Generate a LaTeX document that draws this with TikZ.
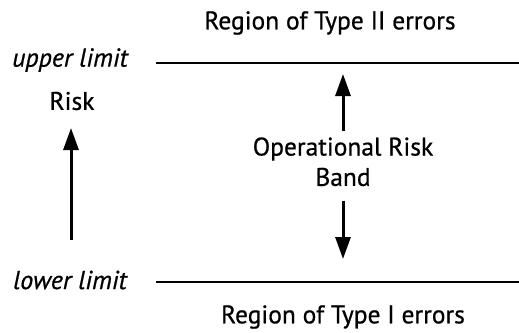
\documentclass[tikz,border=0pt]{standalone}
\usepackage{fontspec}
\setmainfont{PT Sans}[FakeBold=0.7]
\usetikzlibrary{arrows.meta}
\begin{document}
\begin{tikzpicture}[x=1pt,y=-1pt,
  lbl/.style={font=\fontsize{25.5}{30}\selectfont, inner sep=0pt, anchor=center},
  ilbl/.style={lbl, font=\fontsize{26}{30}\selectfont\itshape},
  limit/.style={line width=1.5pt},
  bigarrow/.style={line width=3pt, -{Triangle[length=22pt,width=15pt]}}]
\useasboundingbox (0,0) rectangle (519,332);
\node[lbl] (t2) at (330,23) {Region of Type II errors};
\node[ilbl] (ul) at (70,60) {upper limit};
\coordinate (ua) at (156,63);
\coordinate (ub) at (519,63);
\draw[limit] (ua) -- (ub);
\node[lbl] (risk) at (72,101) {Risk};
\coordinate (ra) at (71,240);
\coordinate (rb) at (71,128);
\draw[bigarrow] (ra) -- (rb);
\node[lbl] (op) at (343,149) {Operational Risk};
\node[lbl] (band) at (343,177) {Band};
\coordinate (upa) at (343,131);
\coordinate (upb) at (343,74);
\draw[bigarrow] (upa) -- (upb);
\coordinate (dna) at (343,201);
\coordinate (dnb) at (343,259);
\draw[bigarrow] (dna) -- (dnb);
\node[ilbl] (ll) at (70,280) {lower limit};
\coordinate (la) at (156,282);
\coordinate (lb) at (519,282);
\draw[limit] (la) -- (lb);
\node[lbl] (t1) at (343,317) {Region of Type I errors};
\end{tikzpicture}
\end{document}
